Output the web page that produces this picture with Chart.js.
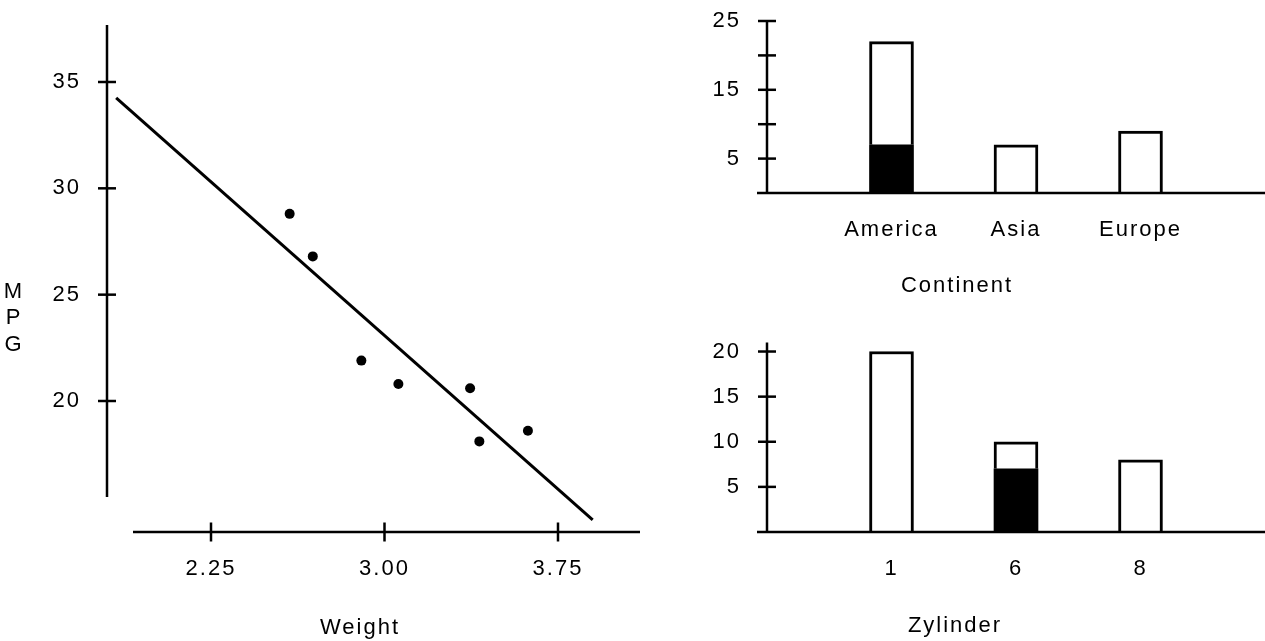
<!DOCTYPE html>
<html><head><meta charset="utf-8">
<script src="https://cdn.jsdelivr.net/npm/chart.js@4/dist/chart.umd.min.js"></script>
<style>
html,body{margin:0;padding:0;background:#fff;overflow:hidden}
#wrap{position:relative;width:1265px;height:641px;background:#fff}
canvas{position:absolute;display:block}
</style></head><body>
<div id="wrap">
<canvas id="scatter" width="640" height="641" style="left:0;top:0"></canvas>
<canvas id="cont" width="565" height="320" style="left:700px;top:0"></canvas>
<canvas id="cyl" width="565" height="321" style="left:700px;top:320px"></canvas>
</div>
<script>
// ---- data ----
const weight = [2.59, 2.69, 2.90, 3.06, 3.37, 3.41, 3.62];
const mpg    = [28.8, 26.8, 21.9, 20.8, 20.6, 18.1, 18.6];
const fitWeight = [1.84, 3.90];
const fitMpg    = [34.25, 14.41];
const weightTicks = [2.25, 3.00, 3.75];
const mpgTicks = [20, 25, 30, 35];

const continents = ['America', 'Asia', 'Europe'];
const continentBlack = [7, 0, 0];
const continentWhite = [15, 7, 9];
const continentTicks = [0, 5, 10, 15, 20, 25];
const continentTickLabels = [5, 15, 25];

const cylinders = ['1', '6', '8'];
const cylinderBlack = [0, 7, 0];
const cylinderWhite = [20, 3, 8];
const cylinderTicks = [0, 5, 10, 15, 20];
const cylinderTickLabels = [5, 10, 15, 20];

// ---- styling ----
Chart.defaults.font.family = "'Liberation Sans', Arial, sans-serif";
Chart.defaults.font.size = 22;
Chart.defaults.color = '#000';
const FONT = "22px 'Liberation Sans', Arial, sans-serif";

function detachedAxes(o) {
  return {
    id: 'detachedAxes',
    beforeDraw(chart) { chart.ctx.letterSpacing = '2px'; },
    afterDraw(chart) {
      const {ctx, chartArea: a, scales: {x, y}} = chart;
      ctx.save();
      ctx.strokeStyle = '#000';
      ctx.lineWidth = 2.5;
      ctx.lineCap = 'butt';
      ctx.beginPath();
      ctx.moveTo(a.left, a.top);
      ctx.lineTo(a.left, a.bottom - o.yGap);
      ctx.stroke();
      y.ticks.forEach(t => {
        if (t.value === o.skipY) return;
        const py = y.getPixelForValue(t.value);
        ctx.beginPath(); ctx.moveTo(a.left - 9, py); ctx.lineTo(a.left + 9, py); ctx.stroke();
      });
      ctx.beginPath();
      ctx.moveTo(a.left + o.xStart, a.bottom);
      ctx.lineTo(a.right, a.bottom);
      ctx.stroke();
      if (o.xTicks) {
        x.ticks.forEach(t => {
          const px = x.getPixelForValue(t.value);
          ctx.beginPath(); ctx.moveTo(px, a.bottom - 9.5); ctx.lineTo(px, a.bottom + 9.5); ctx.stroke();
        });
      }
      ctx.fillStyle = '#000';
      ctx.font = FONT;
      ctx.letterSpacing = '2px';
      ctx.textAlign = 'center';
      ctx.textBaseline = 'middle';
      o.titles.forEach(t => ctx.fillText(t.text, t.x, t.y));
      ctx.restore();
    }
  };
}

const noScaleDecor = {grid: {display: false, drawTicks: false, offset: false}, border: {display: false}, offset: false};
function fixY(w) { return s => { s.width = w; s.paddingTop = 0; s.paddingBottom = 0; }; }
function fixX(h) { return s => { s.height = h; s.paddingLeft = 0; s.paddingRight = 0; }; }

// ---- left: scatter + fit line ----
new Chart(document.getElementById('scatter'), {
  type: 'scatter',
  data: {
    datasets: [
      {data: weight.map((w, i) => ({x: w, y: mpg[i]})), pointRadius: 5, pointBackgroundColor: '#000', pointBorderWidth: 0},
      {data: fitWeight.map((w, i) => ({x: w, y: fitMpg[i]})), showLine: true, pointRadius: 0, borderColor: '#000', borderWidth: 3}
    ]
  },
  options: {
    responsive: false, animation: false, devicePixelRatio: 1,
    layout: {autoPadding: false, padding: {top: 25, left: 0, right: 0, bottom: 0}},
    plugins: {legend: {display: false}, tooltip: {enabled: false}},
    scales: {
      x: {type: 'linear', min: 1.8004, max: 4.1045, ...noScaleDecor,
          afterBuildTicks: s => { s.ticks = weightTicks.map(v => ({value: v})); },
          afterFit: fixX(109),
          ticks: {padding: 24, callback: v => Number(v).toFixed(2)}},
      y: {type: 'linear', min: 13.84, max: 37.68, ...noScaleDecor,
          afterBuildTicks: s => { s.ticks = mpgTicks.map(v => ({value: v})); },
          afterFit: fixY(107),
          ticks: {padding: 26}}
    }
  },
  plugins: [detachedAxes({yGap: 35, xStart: 26, xTicks: true, skipY: null,
    titles: [{text: 'Weight', x: 360, y: 628}, {text: 'M', x: 14, y: 292}, {text: 'P', x: 14, y: 318}, {text: 'G', x: 14, y: 345}]})]
});

// ---- right: stacked bars ----
function barChart(id, cats, black, white, yMax, ticks, tickLabels, padTop, xHeight, title) {
  return new Chart(document.getElementById(id), {
    type: 'bar',
    data: {
      datasets: [
        {data: black.map((v, i) => ({x: i + 1, y: v})), backgroundColor: '#000', borderColor: '#000', borderWidth: 0, barThickness: 44},
        {data: white.map((v, i) => ({x: i + 1, y: v})), backgroundColor: '#fff', borderColor: '#000', borderWidth: 3, barThickness: 44}
      ]
    },
    options: {
      responsive: false, animation: false, devicePixelRatio: 1,
      layout: {autoPadding: false, padding: {top: padTop, left: 0, right: 0, bottom: 0}},
      plugins: {legend: {display: false}, tooltip: {enabled: false}},
      scales: {
        x: {type: 'linear', min: 0, max: 4, stacked: true, ...noScaleDecor,
            afterBuildTicks: s => { s.ticks = cats.map((c, i) => ({value: i + 1})); },
            afterFit: fixX(xHeight),
            ticks: {padding: 24, callback: v => cats[v - 1]}},
        y: {type: 'linear', min: 0, max: yMax, stacked: true, ...noScaleDecor,
            afterBuildTicks: s => { s.ticks = ticks.map(v => ({value: v})); },
            afterFit: fixY(67),
            ticks: {padding: 26, callback: v => tickLabels.includes(v) ? String(v) : ''}}
      }
    },
    plugins: [detachedAxes({yGap: 0, xStart: -10, xTicks: false, skipY: 0, titles: [title]})]
  });
}

barChart('cont', continents, continentBlack, continentWhite, 25, continentTicks, continentTickLabels, 21, 127,
  {text: 'Continent', x: 257, y: 286});
barChart('cyl', cylinders, cylinderBlack, cylinderWhite, 21, cylinderTicks, cylinderTickLabels, 22.5, 109,
  {text: 'Zylinder', x: 255, y: 306});
</script>
</body></html>
